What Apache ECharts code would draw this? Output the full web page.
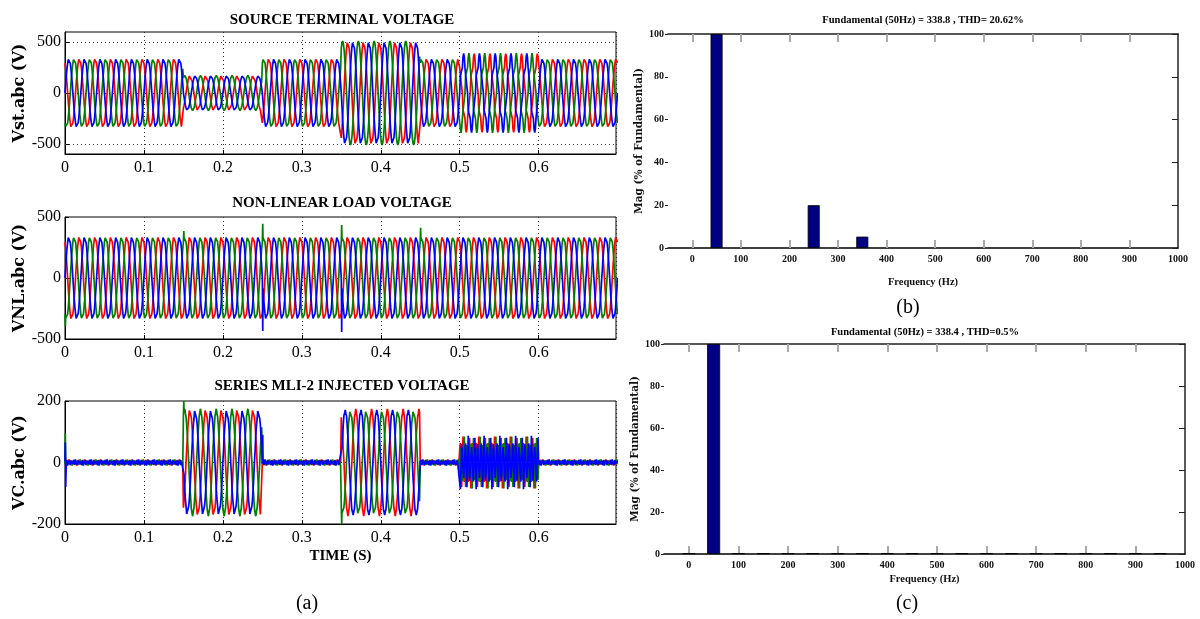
<!DOCTYPE html>
<html>
<head>
<meta charset="utf-8">
<script src="https://cdn.jsdelivr.net/npm/echarts@6/dist/echarts.min.js"></script>
<style>
  html, body { margin: 0; background: #fff; }
  #chart { width: 1200px; height: 619px; }
</style>
</head>
<body>
<div id="chart"></div>
<script>
// segment edges of the disturbance test (s)
const timeBreaks = [0, 0.15, 0.25, 0.35, 0.45, 0.5, 0.6, 0.7];

// one 50 Hz cycle, sampled every 15 degrees
const samplesPerCycle = 24;
const sineCycle = [0, 0.259, 0.5, 0.707, 0.866, 0.966, 1, 0.966, 0.866, 0.707, 0.5, 0.259,
  0, -0.259, -0.5, -0.707, -0.866, -0.966, -1, -0.966, -0.866, -0.707, -0.5, -0.259];
// 5th (20%) + 7th (5.3%) content, per unit of fundamental
const harmonicCycle = [0, 0.244, 0.074, -0.179, -0.127, 0.066, 0.147, 0.066, -0.127, -0.179, 0.074, 0.244,
  0, -0.244, -0.074, 0.179, 0.127, -0.066, -0.147, -0.066, 0.127, 0.179, -0.074, -0.244];
// switching ripple (V)
const rippleCycle = [0, 4, -3, 6, -5, 2, 7, -4, 1, -6, 5, -2, 0, -4, 3, -6, 5, -2, -7, 4, -1, 6, -5, 2];

// phases: a red, b green, c blue
const phaseColors = ['#ff0000', '#008000', '#0000ff'];
const phaseOffsets = [8, 16, 0];

// peak values per segment (V)
const vstFund = [340, 170, 340, 510, 340, 340, 340];
const vstHarm = [0, 0, 0, 0, 0, 340, 0];
const vstRipple = [0.4, 0.4, 0.4, 0.4, 0.4, 0.4, 0.4];
const vnlFund = [340, 340, 340, 340, 340, 340, 340];
const vnlHarm = [0, 0, 0, 0, 0, 0, 0];
const vnlRipple = [0.6, 0.6, 0.6, 0.6, 0.6, 0.6, 0.6];
const vcFund = [0, 170, 0, -170, 0, 0, 0];
const vcHarm = [0, 0, 0, 0, 0, -340, 0];
const vcRipple = [1.4, 0.8, 1.4, 0.8, 1.4, 0.6, 1.4];

// switching transients: [time, phase, value]
const vstSpikes = [];
const vnlSpikes = [[0.0005, 1, -395], [0.1505, 1, 385], [0.2505, 1, 445], [0.2505, 2, -435],
  [0.3505, 1, 435], [0.3505, 2, -443], [0.4505, 1, 412]];
const vcSpikes = [[0.0004, 1, 95], [0.0004, 2, 65], [0.0009, 2, -80], [0.1505, 1, 200],
  [0.2505, 2, 90], [0.3505, 1, -200]];

// harmonic spectra (% of fundamental)
const bFreq = [50, 250, 350];
const bMag = [100, 20, 5.3];
const cFreq = [0, 50, 100, 150, 200, 250, 300, 350, 400, 450, 500, 550, 600, 650, 700, 750, 800, 850, 900, 950];
const cMag = [0.4, 100, 0.4, 0.4, 0.4, 0.4, 0.4, 0.4, 0.4, 0.4, 0.4, 0.4, 0.4, 0.4, 0.4, 0.4, 0.4, 0.4, 0.4, 0.4];
const freqLabels = [0, 100, 200, 300, 400, 500, 600, 700, 800, 900, 1000];
const freqTicks = [0, 100, 200, 300, 400, 500, 600, 700, 800, 900];

const serif = '"Liberation Serif", "Times New Roman", serif';
const samplesPerSecond = samplesPerCycle * 50;

function buildPhase(fund, harm, ripple, spikes, phase) {
  const off = phaseOffsets[phase];
  const last = Math.round(timeBreaks[timeBreaks.length - 1] * samplesPerSecond);
  const pts = [];
  let seg = 0;
  for (let n = 0; n <= last; n++) {
    while (seg < fund.length - 1 && n >= Math.round(timeBreaks[seg + 1] * samplesPerSecond)) seg++;
    const k = (n + off) % samplesPerCycle;
    const r = (n + phase * 7) % samplesPerCycle;
    pts.push([n / samplesPerSecond,
      fund[seg] * sineCycle[k] + harm[seg] * harmonicCycle[k] + ripple[seg] * rippleCycle[r]]);
  }
  spikes.filter((s) => s[1] === phase).forEach((s) => pts.push([s[0], s[2]]));
  pts.sort((a, b) => a[0] - b[0]);
  return pts;
}

const dotted = { color: '#333', type: [1, 3], width: 1 };

function timeAxis(i) {
  return {
    type: 'value', gridIndex: i, min: 0, max: 0.698, interval: 0.1,
    axisLine: { show: true, onZero: false, lineStyle: { color: '#000', width: 1 } },
    axisTick: { inside: true, length: 4, lineStyle: { color: '#000' } },
    axisLabel: {
      color: '#000', fontFamily: serif, fontSize: 16, margin: 6, showMaxLabel: false,
      formatter: (v) => (v === 0 ? '0' : v.toFixed(1)),
    },
    splitLine: { show: true, lineStyle: dotted },
    name: i === 2 ? 'TIME (S)' : '',
    nameLocation: 'middle', nameGap: 25,
    nameTextStyle: { fontFamily: serif, fontWeight: 'bold', fontSize: 15, color: '#000' },
  };
}

function voltAxis(i, name, range, ticks) {
  return {
    type: 'value', gridIndex: i, min: -range, max: range,
    axisLine: { show: true, onZero: false, lineStyle: { color: '#000', width: 1 } },
    axisTick: { inside: true, length: 4, customValues: ticks, lineStyle: { color: '#000' } },
    axisLabel: { color: '#000', fontFamily: serif, fontSize: 16, margin: 4, customValues: ticks },
    splitLine: { show: false },
    name, nameLocation: 'middle', nameGap: 33,
    nameTextStyle: { fontFamily: '"DejaVu Serif", serif', fontWeight: 'bold', fontSize: 16, color: '#000' },
  };
}

function waveSeries(i, fund, harm, ripple, spikes, gridLines) {
  return phaseColors.map((color, p) => {
    const s = {
      type: 'line', xAxisIndex: i, yAxisIndex: i, symbol: 'none', silent: true,
      lineStyle: { color, width: 1.7 }, data: buildPhase(fund, harm, ripple, spikes, p),
    };
    if (p === 0) {
      s.markLine = {
        symbol: 'none', silent: true, label: { show: false },
        lineStyle: dotted, data: gridLines.map((y) => ({ yAxis: y })),
      };
    }
    return s;
  });
}

function freqAxes(i, nameGap) {
  const tickStyle = { color: '#aaa', width: 2 };
  return {
    x: [
      {
        type: 'value', gridIndex: i, min: -50, max: 1000, position: 'bottom',
        axisLine: { show: true, onZero: false, lineStyle: { color: '#000', width: 1.5 } },
        axisTick: { inside: true, length: 8, customValues: freqTicks, lineStyle: tickStyle },
        axisLabel: {
          color: '#111', fontFamily: serif, fontWeight: 'bold', fontSize: 10, margin: 6,
          customValues: freqLabels, formatter: (v) => String(v),
        },
        splitLine: { show: false },
        name: 'Frequency (Hz)', nameLocation: 'middle', nameGap,
        nameTextStyle: { fontFamily: serif, fontWeight: 'bold', fontSize: 10.5, color: '#111' },
      },
      {
        type: 'value', gridIndex: i, min: -50, max: 1000, position: 'top',
        axisLine: { show: true, onZero: false, lineStyle: { color: '#222', width: 1.5 } },
        axisTick: { inside: true, length: 8, customValues: freqTicks, lineStyle: tickStyle },
        axisLabel: { show: false }, splitLine: { show: false },
      },
    ],
    y: [
      {
        type: 'value', gridIndex: i, min: 0, max: 100, interval: 20, position: 'left',
        axisLine: { show: false, onZero: false },
        axisTick: { show: true, length: 3, lineStyle: { color: '#222' } },
        axisLabel: { color: '#111', fontFamily: serif, fontWeight: 'bold', fontSize: 10, margin: 4 },
        splitLine: { show: false },
        name: 'Mag (% of Fundamental)', nameLocation: 'middle', nameGap: 21,
        nameTextStyle: { fontFamily: '"DejaVu Serif", serif', fontWeight: 'bold', fontSize: 10.5, color: '#111' },
      },
      {
        type: 'value', gridIndex: i, min: 0, max: 100, interval: 20, position: 'right',
        axisLine: { show: true, onZero: false, lineStyle: { color: '#222', width: 1.5 } },
        axisTick: { inside: true, length: 6, lineStyle: { color: '#222' } },
        axisLabel: { show: false }, splitLine: { show: false },
      },
    ],
  };
}

function barSeries(xi, yi, freq, mag, width) {
  return {
    type: 'bar', xAxisIndex: xi, yAxisIndex: yi, barWidth: width, silent: true,
    itemStyle: { color: '#000080', borderColor: '#000', borderWidth: 0.8 },
    data: freq.map((f, j) => [f, mag[j]]),
  };
}

const fb = freqAxes(3, 29);
const fc = freqAxes(4, 20);

function label(text, x, y, font) {
  return {
    type: 'text', x, y, silent: true,
    style: { text, font, fill: '#000', align: 'center', verticalAlign: 'middle', textAlign: 'center', textVerticalAlign: 'middle' },
  };
}

const chart = echarts.init(document.getElementById('chart'), null, { renderer: 'canvas' });
chart.setOption({
  animation: false,
  backgroundColor: '#fff',
  grid: [
    { left: 65, top: 32, width: 551, height: 122, show: true, borderColor: '#000', borderWidth: 1 },
    { left: 65, top: 217, width: 551, height: 122, show: true, borderColor: '#000', borderWidth: 1 },
    { left: 65, top: 401, width: 551, height: 123, show: true, borderColor: '#000', borderWidth: 1 },
    { left: 668, top: 34, width: 510, height: 214 },
    { left: 664, top: 344, width: 521, height: 210 },
  ],
  xAxis: [timeAxis(0), timeAxis(1), timeAxis(2), fb.x[0], fb.x[1], fc.x[0], fc.x[1]]
    .map((a, j) => (j >= 5 ? Object.assign(a, { gridIndex: 4 }) : a)),
  yAxis: [
    voltAxis(0, 'Vst.abc (V)', 600, [-500, 0, 500]),
    voltAxis(1, 'VNL.abc (V)', 500, [-500, 0, 500]),
    voltAxis(2, 'VC.abc (V)', 200, [-200, 0, 200]),
    fb.y[0], fb.y[1], fc.y[0], fc.y[1],
  ].map((a, j) => (j >= 5 ? Object.assign(a, { gridIndex: 4 }) : a)),
  series: [
    ...waveSeries(0, vstFund, vstHarm, vstRipple, vstSpikes, [-500, 0, 500]),
    ...waveSeries(1, vnlFund, vnlHarm, vnlRipple, vnlSpikes, [0]),
    ...waveSeries(2, vcFund, vcHarm, vcRipple, vcSpikes, [0]),
    barSeries(3, 3, bFreq, bMag, 12),
    barSeries(5, 5, cFreq, cMag, 13),
  ],
  graphic: [
    label('SOURCE TERMINAL VOLTAGE', 342, 20, 'bold 15px ' + serif),
    label('NON-LINEAR LOAD VOLTAGE', 342, 203, 'bold 15px ' + serif),
    label('SERIES MLI-2 INJECTED VOLTAGE', 342, 386, 'bold 15px ' + serif),
    label('Fundamental (50Hz) = 338.8 , THD= 20.62%', 923, 20, 'bold 10.5px ' + serif),
    label('Fundamental (50Hz) = 338.4 , THD=0.5%', 925, 332, 'bold 10.5px ' + serif),
    label('(a)', 307, 604, '20px ' + serif),
    label('(b)', 908, 308, '20px ' + serif),
    label('(c)', 907, 604, '20px ' + serif),
  ],
});
</script>
</body>
</html>
